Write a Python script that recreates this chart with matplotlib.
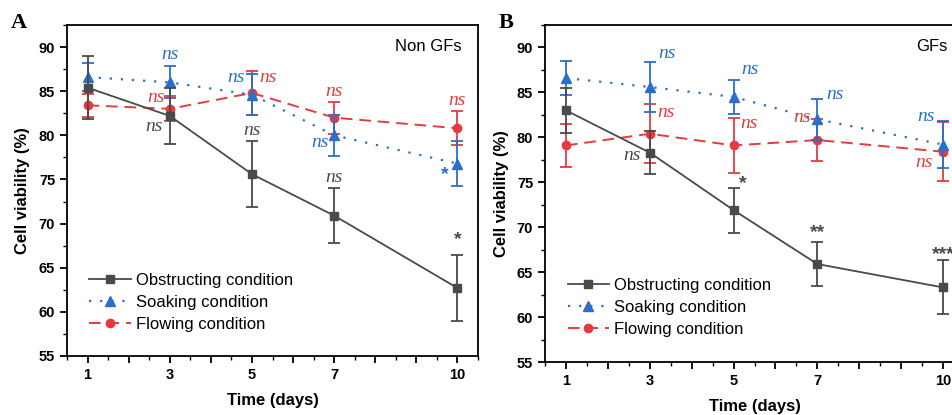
import matplotlib
matplotlib.use("Agg")
import matplotlib.pyplot as plt
from matplotlib.ticker import MultipleLocator

days = [1, 3, 5, 7, 10]
tick_days = [1, 3, 5, 7, 10]

# panel A: Non GFs
a_obs = [85.4, 82.2, 75.6, 70.9, 62.7]
a_obs_err = [3.6, 3.2, 3.7, 3.1, 3.7]
a_soak = [86.6, 86.0, 84.6, 80.0, 76.8]
a_soak_err = [1.6, 1.8, 2.3, 2.3, 2.5]
a_flow = [83.4, 83.0, 84.8, 82.0, 80.8]
a_flow_err = [1.3, 1.4, 2.5, 1.8, 1.9]

# panel B: GFs
b_obs = [83.0, 78.3, 71.9, 65.9, 63.3]
b_obs_err = [2.5, 2.4, 2.5, 2.4, 3.0]
b_soak = [86.6, 85.6, 84.5, 82.0, 79.2]
b_soak_err = [1.9, 2.8, 1.9, 2.3, 2.6]
b_flow = [79.1, 80.4, 79.1, 79.7, 78.4]
b_flow_err = [2.4, 3.3, 3.1, 2.3, 3.3]

# significance labels: (x, y, text, series)
a_marks = [(3, 89.1, "ns", "soak"), (4.62, 86.6, "ns", "soak"), (5.38, 86.6, "ns", "flow"),
           (2.66, 84.3, "ns", "flow"), (2.62, 81.0, "ns", "obs"), (5, 80.6, "ns", "obs"),
           (7, 85.0, "ns", "flow"), (6.66, 79.2, "ns", "soak"), (7, 75.2, "ns", "obs"),
           (10, 83.9, "ns", "flow"), (9.7, 75.6, "*", "soak"), (10, 68.2, "*", "obs")]
b_marks = [(3.4, 89.3, "ns", "soak"), (5.38, 87.5, "ns", "soak"), (3.38, 82.8, "ns", "flow"),
           (5.36, 81.5, "ns", "flow"), (2.58, 78.0, "ns", "obs"), (5.22, 74.9, "*", "obs"),
           (7.41, 84.8, "ns", "soak"), (6.64, 82.2, "ns", "flow"), (9.58, 82.3, "ns", "soak"),
           (9.55, 77.2, "ns", "flow"), (7, 69.4, "**", "obs"), (10, 66.9, "***", "obs")]

colors = {"obs": "#4a4a4a", "soak": "#2a6fc9", "flow": "#e53b3f"}

plt.rcParams["font.family"] = ["Liberation Sans", "DejaVu Sans"]


def draw_panel(ax, obs, obs_err, soak, soak_err, flow, flow_err, marks, label):
    eb_flow = ax.errorbar(days, flow, yerr=flow_err, color=colors["flow"], marker="o", ms=6,
                          ls=(0, (6, 3.5)), lw=1.4, capsize=4, capthick=1.3, elinewidth=1.3,
                          zorder=2)
    eb_soak = ax.errorbar(days, soak, yerr=soak_err, color=colors["soak"], marker="^", ms=7,
                          ls=(0, (1, 4)), lw=1.6, capsize=4, capthick=1.3, elinewidth=1.3,
                          zorder=3)
    eb_obs = ax.errorbar(days, obs, yerr=obs_err, color=colors["obs"], marker="s", ms=5.5,
                         ls="-", lw=1.3, capsize=4, capthick=1.3, elinewidth=1.3,
                         zorder=4)

    for x, y, txt, s in marks:
        if txt == "ns":
            ax.text(x, y, txt, color=colors[s], ha="center", va="center", fontsize=14,
                    family=["Liberation Serif"], style="italic", zorder=5)
        else:
            ax.text(x, y, txt, color=colors[s], ha="center", va="center", fontsize=14,
                    fontweight="bold", zorder=5)

    ax.set_xlim(0.5, 10.5)
    ax.set_ylim(55, 92.5)
    ax.set_xticks(list(range(1, 11)), [str(d) if d in tick_days else "" for d in range(1, 11)])
    ax.xaxis.set_minor_locator(MultipleLocator(0.5))
    ax.yaxis.set_major_locator(MultipleLocator(5))
    ax.yaxis.set_minor_locator(MultipleLocator(2.5))
    ax.tick_params(which="major", direction="out", length=5, width=1.3, labelsize=10.5)
    ax.tick_params(which="minor", direction="out", length=3, width=1.0)
    for lab in ax.get_xticklabels() + ax.get_yticklabels():
        lab.set_fontweight("bold")
    for sp in ax.spines.values():
        sp.set_linewidth(1.3)

    ax.set_xlabel("Time (days)", fontsize=12, fontweight="bold", labelpad=8)
    ax.set_ylabel("Cell viability (%)", fontsize=12, fontweight="bold", labelpad=6)
    ax.text(0.96, 0.935, label, transform=ax.transAxes, ha="right", va="center", fontsize=12)

    ax.legend([eb_obs[0], eb_soak[0], eb_flow[0]],
              ["Obstructing condition", "Soaking condition", "Flowing condition"],
              loc="upper left", bbox_to_anchor=(0.03, 0.28), frameon=False, fontsize=12,
              handlelength=2.5, handletextpad=0.3, labelspacing=0.42, borderaxespad=0.2)


fig = plt.figure(figsize=(9.53, 4.15), dpi=100)
ax_a = fig.add_axes([0.0703, 0.1422, 0.4313, 0.7976])
ax_b = fig.add_axes([0.5719, 0.1277, 0.4397, 0.8120])

draw_panel(ax_a, a_obs, a_obs_err, a_soak, a_soak_err, a_flow, a_flow_err, a_marks, "Non GFs")
draw_panel(ax_b, b_obs, b_obs_err, b_soak, b_soak_err, b_flow, b_flow_err, b_marks, "GFs")

fig.text(0.011, 0.945, "A", fontsize=16, fontweight="bold", family=["Liberation Serif"], va="center")
fig.text(0.523, 0.945, "B", fontsize=16, fontweight="bold", family=["Liberation Serif"], va="center")

fig.savefig("out.png", dpi=100)
